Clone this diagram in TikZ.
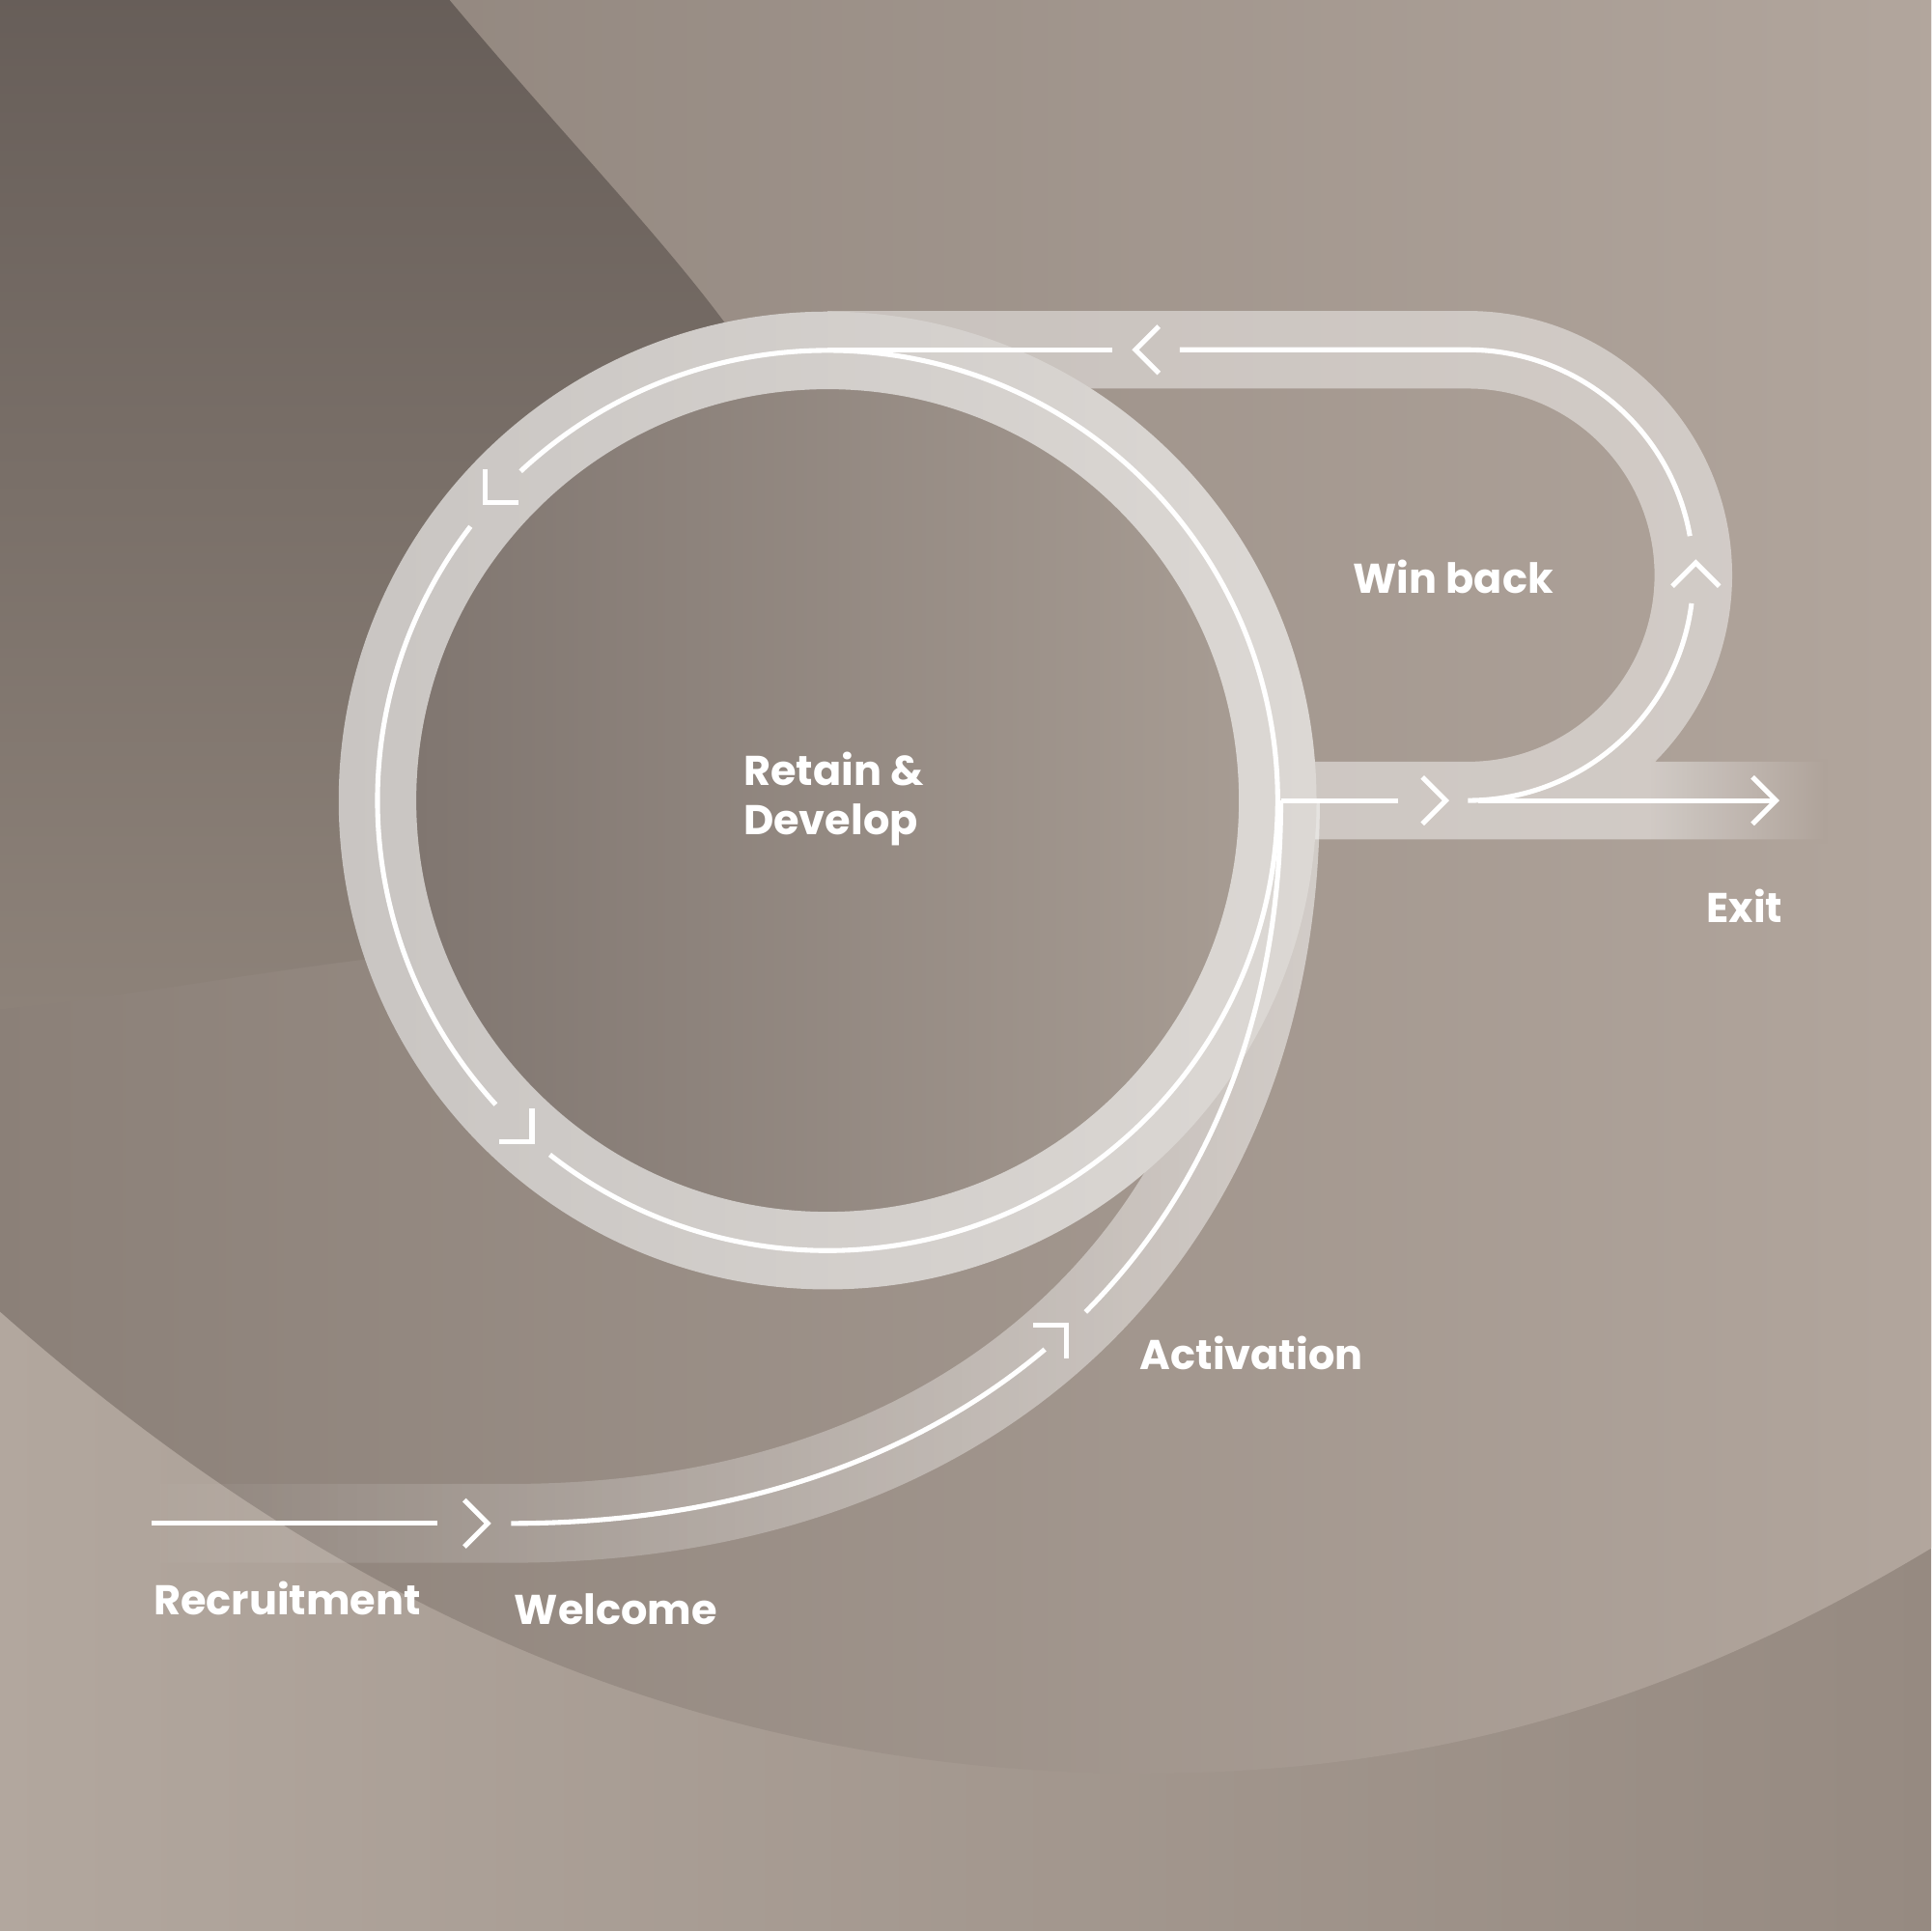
\documentclass[tikz,border=0pt]{standalone}
\usepackage{fontspec}
\setmainfont{Poppins}
\usetikzlibrary{fadings}

\definecolor{bgAleft}{HTML}{B2A79E}
\definecolor{bgAright}{HTML}{968A81}
\definecolor{bgBleft}{HTML}{8B8078}
\definecolor{bgBmid}{HTML}{A3978E}
\definecolor{bgBright}{HTML}{B2A69D}
\definecolor{bgExit}{HTML}{AFA39A}
\definecolor{darkTop}{HTML}{655C57}
\definecolor{darkMid}{HTML}{716863}
\definecolor{darkBot}{HTML}{8D8279}
\definecolor{innerL}{HTML}{807670}
\definecolor{innerR}{HTML}{A79C93}
\definecolor{ringL}{HTML}{C9C5C2}
\definecolor{ringM}{HTML}{D5D1CD}
\definecolor{ringR}{HTML}{DCD8D4}

\tikzfading[name=actfade, left color=transparent!100, right color=transparent!0]
\tikzfading[name=exitfade, left color=transparent!100, right color=transparent!0]

\tikzset{
  wline/.style={white, line width=0.04cm},
  bandline/.style={draw=white, draw opacity=0.45, line width=0.63cm},
  lbl/.style={text=white, inner sep=0pt, font=\bfseries\fontsize{9.6}{11.4}\selectfont},
}
\newcommand{\chev}[2]{\draw[wline, shift={#1}, rotate=-#2] (-19,-19) -- (0,0) -- (-19,19);}

\begin{document}
\begin{tikzpicture}[x=0.01cm, y=-0.01cm]
            \useasboundingbox (0,0) rectangle (1568,1568);
            \clip (0,0) rectangle (1568,1568);
            % Background
            \shade[left color=bgAleft, right color=bgAright] (-5,-5) rectangle (1573,1573);
            \shade[left color=bgBleft, middle color=bgBmid, right color=bgBright]
              (-5,-10) -- (-5,1061) -- (0,1065) .. controls (300,1330) and (600,1440) .. (930,1440)
              .. controls (1200,1440) and (1400,1360) .. (1580,1250) -- (1580,-10) -- cycle;
            \shade[top color=darkTop, middle color=darkMid, bottom color=darkBot]
              (-5,-50) -- (330,-50) -- (365,0) .. controls (470,125) and (560,215) .. (615,300)
              -- (700,340) -- (700,760) -- (329,775) .. controls (200,790) and (100,810) .. (-5,820) -- cycle;
            % Coordinates
            \coordinate (ringc) at (672,650);
            \coordinate (ringtop) at (672,284);
            \coordinate (ringright) at (1040,650);
            \coordinate (wbtop) at (1192,284);
            \coordinate (wbbot) at (1192,650);
            \coordinate (topA) at (903,284);
            \coordinate (topB) at (958,284);
            \coordinate (exitA) at (1135,650);
            \coordinate (exitB) at (1200,650);
            \coordinate (exitC) at (1442,650);
            \coordinate (recA) at (123,1237);
            \coordinate (recB) at (355,1237);
            \coordinate (welA) at (415,1237);
            \coordinate (actA) at (848.4,1095.7);
            \coordinate (actB) at (881.4,1065.4);
            % Bands
            \draw[white, line width=0.64cm, draw opacity=0.5, path fading=actfade]
              (ringright) .. controls (1040,1000) and (800,1237) .. (welA) -- (130,1237);
            \draw[bandline] (1060,650) -- (wbbot) arc[start angle=90, end angle=-90, radius=183] -- (ringtop)
              (wbbot) -- (1480,650);
            \fill[bgExit, path fading=exitfade] (1340,616) rectangle (1484,685);
            \shade[left color=innerL, right color=innerR] (ringc) circle (335);
            \shade[even odd rule, left color=ringL, middle color=ringM, right color=ringR]
              (ringc) circle (397) (ringc) circle (334);
            % Lines
            \draw[wline] (ringc) ++(227:365.5) arc[start angle=227, end angle=488.1, radius=365.5];
            \draw[wline] (ringc) ++(217.5:365.5) arc[start angle=217.5, end angle=137.5, radius=365.5];
            \draw[wline] (ringtop) -- (topA);
            \draw[wline] (topB) -- (wbtop) arc[start angle=-90, end angle=-10, radius=183];
            \draw[wline] (wbbot) arc[start angle=90, end angle=7.2, radius=183];
            \draw[wline] (ringright) -- (exitA);
            \draw[wline] (exitB) -- (exitC);
            \draw[wline] (recA) -- (recB);
            \draw[wline] (welA) .. controls (594,1237) and (741.7,1185.8) .. (actA);
            \draw[wline] (actB) .. controls (983.5,963) and (1040,819.75) .. (ringright);
            % Chevrons
            \chev{(922,284)}{180}
            \chev{(394,408)}{135}
            \chev{(432,927)}{45}
            \chev{(1377,457)}{270}
            \chev{(1174,650)}{0}
            \chev{(1442,650)}{0}
            \chev{(396,1237)}{0}
            \chev{(866,1076)}{315}
            % Labels
            \node[lbl, anchor=north west, align=left] (retain) at (603,610) {Retain \&\\Develop};
            \node[lbl, anchor=base west] (winback) at (1098,482) {Win back};
            \node[lbl, anchor=base west] (exit) at (1385,749) {Exit};
            \node[lbl, anchor=base west] (activation) at (925,1112) {Activation};
            \node[lbl, anchor=base west] (recruitment) at (124,1311) {Recruitment};
            \node[lbl, anchor=base west] (welcome) at (417,1319) {Welcome};
\end{tikzpicture}
\end{document}
